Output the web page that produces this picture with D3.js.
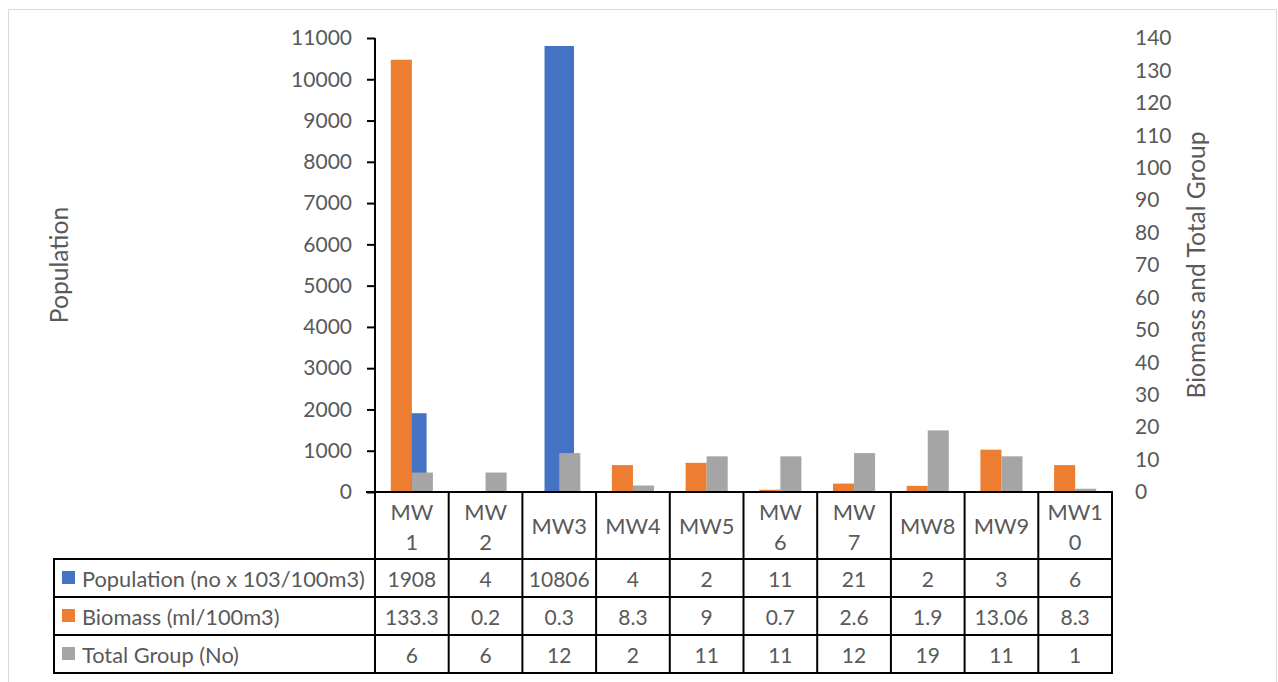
<!DOCTYPE html>
<html>
<head>
<meta charset="utf-8">
<script src="https://cdn.jsdelivr.net/npm/d3@7"></script>
<style>
  html, body { margin: 0; padding: 0; background: #fff; }
  svg { display: block; }
  text { font-family: Lato, "Open Sans", sans-serif; fill: #595959; }
</style>
</head>
<body>
<svg id="chart" width="1278" height="682"></svg>
<script>
// Sampling stations
const categories = ["MW1", "MW2", "MW3", "MW4", "MW5", "MW6", "MW7", "MW8", "MW9", "MW10"];
// Header labels as they wrap inside the data table cells
const headerLines = [["MW", "1"], ["MW", "2"], ["MW3"], ["MW4"], ["MW5"], ["MW", "6"], ["MW", "7"], ["MW8"], ["MW9"], ["MW1", "0"]];

// Series values
const population = [1908, 4, 10806, 4, 2, 11, 21, 2, 3, 6];
const biomass = [133.3, 0.2, 0.3, 8.3, 9, 0.7, 2.6, 1.9, 13.06, 8.3];
const totalGroup = [6, 6, 12, 2, 11, 11, 12, 19, 11, 1];

const seriesNames = ["Population (no x 103/100m3)", "Biomass (ml/100m3)", "Total Group (No)"];
const seriesColors = ["#4472C4", "#ED7D31", "#A5A5A5"];

// Axis ticks
const leftTicks = d3.range(0, 11001, 1000);
const rightTicks = d3.range(0, 141, 10);

const FONT = 21;        // tick labels and table values
const LABEL_FONT = 21.8; // series names in the table
const TITLE_FONT = 24.6; // axis titles
const svg = d3.select("#chart");

// Chart area frame
svg.append("rect")
  .attr("x", 8.5).attr("y", 9.5)
  .attr("width", 1268).attr("height", 700)
  .attr("fill", "#fff").attr("stroke", "#d9d9d9").attr("stroke-width", 1);

const plotLeft = 375, plotRight = 1112, plotTop = 38, plotBottom = 492;
const tableLeft = 54;
const rowH = 38, headerBottom = 559;

const x = d3.scaleBand().domain(categories).range([plotLeft, plotRight]).padding(0);
const yL = d3.scaleLinear().domain([0, 11000]).range([plotBottom, plotTop]);
const yR = d3.scaleLinear().domain([0, 140]).range([plotBottom, plotTop]);

// Primary group: one series; secondary group: two series (gap width 150%)
const xPrim = d3.scaleBand().domain(["pop"]).range([0, x.bandwidth()]).paddingInner(0).paddingOuter(0.75);
const xSec = d3.scaleBand().domain(["bio", "tot"]).range([0, x.bandwidth()]).paddingInner(0).paddingOuter(0.75);

const rows = categories.map((c, i) => ({ c, pop: population[i], bio: biomass[i], tot: totalGroup[i] }));

// Population bars (primary axis, drawn underneath)
svg.append("g").selectAll("rect").data(rows).join("rect")
  .attr("x", d => x(d.c) + xPrim("pop"))
  .attr("width", xPrim.bandwidth())
  .attr("y", d => yL(d.pop))
  .attr("height", d => plotBottom - yL(d.pop))
  .attr("fill", seriesColors[0]);

// Biomass and Total Group bars (secondary axis)
["bio", "tot"].forEach((k, j) => {
  svg.append("g").selectAll("rect").data(rows).join("rect")
    .attr("x", d => x(d.c) + xSec(k))
    .attr("width", xSec.bandwidth())
    .attr("y", d => yR(d[k]))
    .attr("height", d => plotBottom - yR(d[k]))
    .attr("fill", seriesColors[j + 1]);
});

// Left axis
const gL = svg.append("g").attr("transform", `translate(${plotLeft},0)`)
  .call(d3.axisLeft(yL).tickValues(leftTicks).tickFormat(d3.format("d")).tickSize(8).tickPadding(15));
gL.select(".domain").attr("stroke", "#000").attr("stroke-width", 2).attr("d", `M0,${plotTop}V${plotBottom}`);
gL.selectAll(".tick line").attr("stroke", "#000").attr("stroke-width", 2);
gL.selectAll(".tick text").style("font-size", FONT + "px").attr("fill", "#595959").attr("font-family", null);

// Right axis
const gR = svg.append("g").attr("transform", `translate(${plotRight},0)`)
  .call(d3.axisRight(yR).tickValues(rightTicks).tickFormat(d3.format("d")).tickSize(0).tickPadding(23));
gR.select(".domain").remove();
gR.selectAll(".tick text").style("font-size", FONT + "px").attr("fill", "#595959").attr("font-family", null);

// Axis titles
svg.append("text")
  .attr("transform", `translate(58,265) rotate(-90)`)
  .attr("text-anchor", "middle").attr("dominant-baseline", "central")
  .style("font-size", TITLE_FONT + "px").text("Population");
svg.append("text")
  .attr("transform", `translate(1195,265) rotate(-90)`)
  .attr("text-anchor", "middle").attr("dominant-baseline", "central")
  .style("font-size", TITLE_FONT + "px").text("Biomass and Total Group");

// Data table
const tbl = svg.append("g");
const lineAttr = sel => sel.attr("stroke", "#000").attr("stroke-width", 2).attr("stroke-linecap", "square");

// Header labels
categories.forEach((c, i) => {
  const cx = x(c) + x.bandwidth() / 2;
  const lines = headerLines[i];
  const t = tbl.append("text").attr("text-anchor", "middle").style("font-size", LABEL_FONT + "px");
  lines.forEach((ln, k) => {
    const cy = lines.length === 1 ? 525.5 : 511 + k * 30;
    t.append("tspan").attr("x", cx).attr("y", cy).attr("dominant-baseline", "central").text(ln);
  });
});

// Series rows
const seriesVals = [population, biomass, totalGroup];
seriesNames.forEach((name, r) => {
  const cy = headerBottom + rowH * r + rowH / 2;
  tbl.append("rect").attr("x", 62).attr("y", cy - 7).attr("width", 13).attr("height", 13).attr("fill", seriesColors[r]);
  tbl.append("text").attr("x", 82).attr("y", cy).attr("dominant-baseline", "central")
    .style("font-size", LABEL_FONT + "px").text(name);
  categories.forEach((c, i) => {
    tbl.append("text").attr("x", x(c) + x.bandwidth() / 2).attr("y", cy)
      .attr("text-anchor", "middle").attr("dominant-baseline", "central")
      .style("font-size", FONT + "px").text(seriesVals[r][i]);
  });
});

// Grid lines of the table
const tableBottom = headerBottom + rowH * 3;
tbl.append("line").attr("x1", plotLeft - 8).attr("x2", plotRight).attr("y1", plotBottom).attr("y2", plotBottom).call(lineAttr);
for (let r = 0; r <= 3; r++) {
  const yy = headerBottom + rowH * r;
  tbl.append("line").attr("x1", tableLeft).attr("x2", plotRight).attr("y1", yy).attr("y2", yy).call(lineAttr);
}
tbl.append("line").attr("x1", tableLeft).attr("x2", tableLeft).attr("y1", headerBottom).attr("y2", tableBottom).call(lineAttr);
const borders = categories.map(c => x(c)).concat([plotRight]);
borders.forEach(bx => {
  tbl.append("line").attr("x1", bx).attr("x2", bx).attr("y1", plotBottom).attr("y2", tableBottom).call(lineAttr);
});
</script>
</body>
</html>
